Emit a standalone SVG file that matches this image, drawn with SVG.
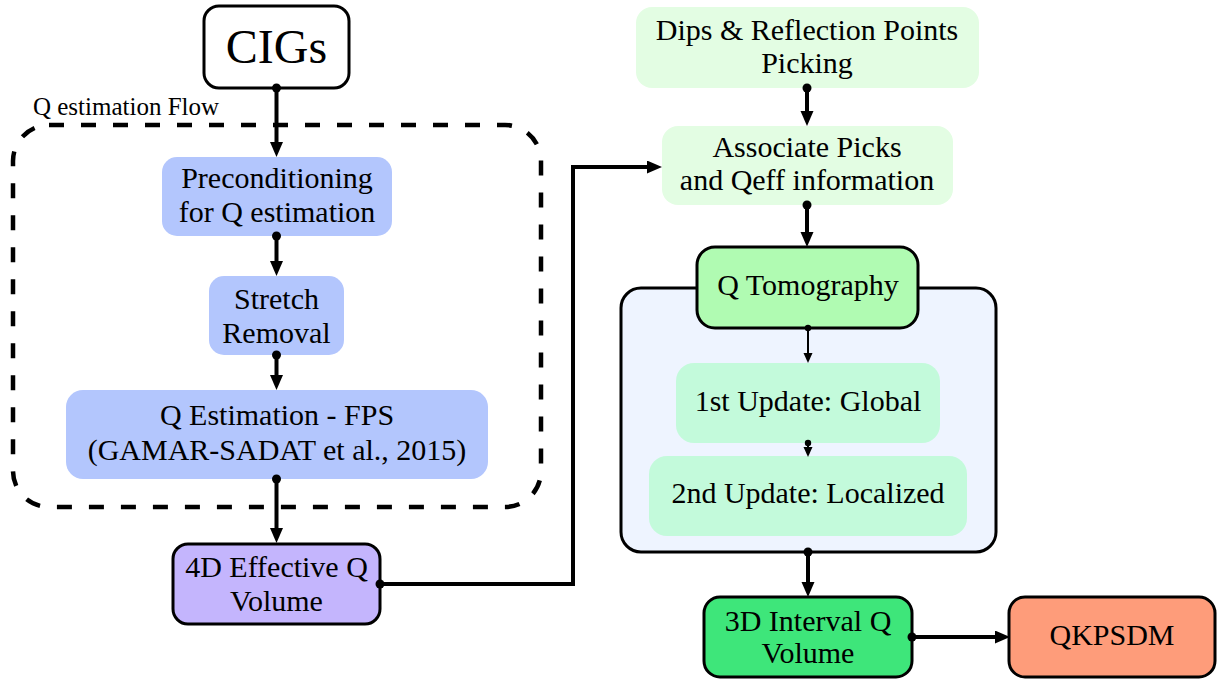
<svg xmlns="http://www.w3.org/2000/svg" width="1219" height="679" viewBox="0 0 1219 679">
<style>
text{font-family:"Liberation Serif","Times New Roman",serif;fill:#000;text-anchor:middle}
.t{font-size:30px}
.blue{fill:#b3c6fd}
.lg{fill:#e3fde3}
.upd{fill:#c3fadb}
.bord{stroke:#000;stroke-width:3}
.c{fill:none;stroke:#000;stroke-width:4}
.ct{fill:none;stroke:#000;stroke-width:2}
</style>
<defs>
<marker id="arr" markerUnits="userSpaceOnUse" markerWidth="16" markerHeight="14" refX="5" refY="6.5" orient="auto"><path d="M0,0 L15,6.5 L0,13 z" fill="#000"/></marker>
<marker id="dot" markerUnits="userSpaceOnUse" markerWidth="12" markerHeight="12" refX="6" refY="6"><circle cx="6" cy="6" r="4.5" fill="#000"/></marker>
<marker id="arrs" markerUnits="userSpaceOnUse" markerWidth="12" markerHeight="10" refX="3" refY="4.5" orient="auto"><path d="M0,0 L10,4.5 L0,9 z" fill="#000"/></marker>
<marker id="dots" markerUnits="userSpaceOnUse" markerWidth="8" markerHeight="8" refX="4" refY="4"><circle cx="4" cy="4" r="3.2" fill="#000"/></marker>
</defs>

<g id="qflow-group">
<rect x="13" y="125" width="528" height="382" rx="36" fill="none" stroke="#000" stroke-width="4.5" stroke-dasharray="15 17"/>
<text x="126" y="115" style="font-size:25px">Q estimation Flow</text>
</g>

<g id="tomo-container">
<rect x="621" y="288" width="375" height="264" rx="20" fill="#eef4ff" class="bord"/>
</g>

<g id="cigs">
<rect x="204" y="6" width="145" height="82" rx="15" fill="#fff" class="bord"/>
<text x="276.5" y="63" style="font-size:48px">CIGs</text>
</g>

<g id="precond">
<rect x="162" y="157" width="230" height="79" rx="15" class="blue"/>
<text class="t" x="277" y="188">Preconditioning</text>
<text class="t" x="277" y="222">for Q estimation</text>
</g>

<g id="stretch">
<rect x="209" y="276" width="135" height="79" rx="15" class="blue"/>
<text class="t" x="276.5" y="309">Stretch</text>
<text class="t" x="276.5" y="343">Removal</text>
</g>

<g id="qest">
<rect x="66" y="390" width="422" height="89" rx="17" class="blue"/>
<text class="t" x="277" y="425">Q Estimation - FPS</text>
<text class="t" x="277" y="460">(GAMAR-SADAT et al., 2015)</text>
</g>

<g id="effq">
<rect x="173" y="544" width="207" height="80" rx="15" fill="#c4b5fd" class="bord"/>
<text class="t" x="276.5" y="577">4D Effective Q</text>
<text class="t" x="276.5" y="611">Volume</text>
</g>

<g id="dips">
<rect x="636" y="7" width="343" height="81" rx="16" class="lg"/>
<text class="t" x="807" y="40">Dips &amp; Reflection Points</text>
<text class="t" x="807" y="73">Picking</text>
</g>

<g id="assoc">
<rect x="662" y="126" width="291" height="79" rx="16" class="lg"/>
<text class="t" x="807" y="157">Associate Picks</text>
<text class="t" x="807" y="190">and Qeff information</text>
</g>

<g id="qtomo">
<rect x="697" y="247" width="221" height="81" rx="18" fill="#b0fbb2" class="bord"/>
<text class="t" x="808" y="295">Q Tomography</text>
</g>

<g id="upd1">
<rect x="676" y="363" width="264" height="80" rx="18" class="upd"/>
<text class="t" x="808" y="411">1st Update: Global</text>
</g>

<g id="upd2">
<rect x="649" y="456" width="318" height="80" rx="18" class="upd"/>
<text class="t" x="808" y="503">2nd Update: Localized</text>
</g>

<g id="intq">
<rect x="704" y="597" width="208" height="80" rx="16" fill="#3ee67a" class="bord"/>
<text class="t" x="808" y="631">3D Interval Q</text>
<text class="t" x="808" y="663">Volume</text>
</g>

<g id="qkpsdm">
<rect x="1009" y="597" width="206" height="80" rx="16" fill="#fe9c7a" class="bord"/>
<text class="t" x="1112" y="645">QKPSDM</text>
</g>

<g id="connectors">
<path class="c" d="M276.5,88 V147" marker-start="url(#dot)" marker-end="url(#arr)"/>
<path class="c" d="M276.5,236 V266" marker-start="url(#dot)" marker-end="url(#arr)"/>
<path class="c" d="M276.5,355 V380" marker-start="url(#dot)" marker-end="url(#arr)"/>
<path class="c" d="M276.5,479 V533" marker-start="url(#dot)" marker-end="url(#arr)"/>
<path class="c" d="M380,584 H573 V167 H652" marker-start="url(#dot)" marker-end="url(#arr)"/>
<path class="c" d="M807,88 V116" marker-start="url(#dot)" marker-end="url(#arr)"/>
<path class="c" d="M807,205 V237" marker-start="url(#dot)" marker-end="url(#arr)"/>
<path class="ct" d="M808,328 V356" marker-start="url(#dots)" marker-end="url(#arrs)"/>
<path class="ct" d="M808,443 V450" marker-start="url(#dots)" marker-end="url(#arrs)"/>
<path class="c" d="M808,552 V587" marker-start="url(#dot)" marker-end="url(#arr)"/>
<path class="c" d="M912,637 H1000" marker-start="url(#dot)" marker-end="url(#arr)"/>
</g>
</svg>
